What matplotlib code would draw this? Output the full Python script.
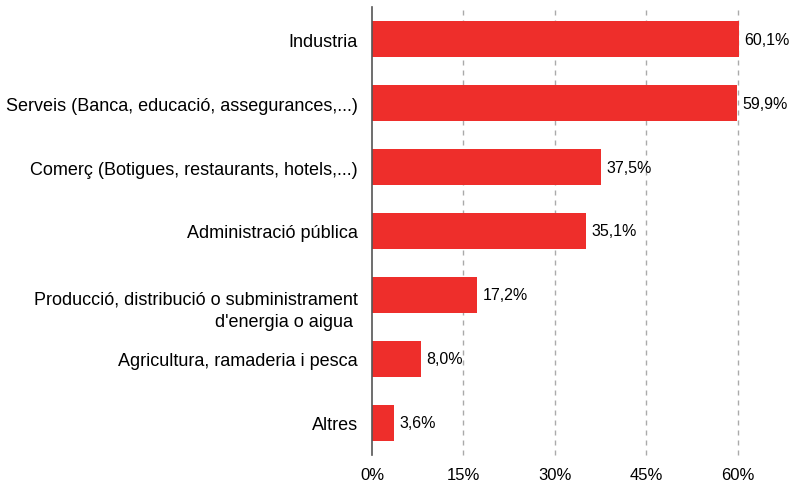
import matplotlib
matplotlib.use("Agg")
import matplotlib.pyplot as plt
from matplotlib import transforms

plt.rcParams['font.family'] = ['Liberation Sans', 'DejaVu Sans']

categories = [
    'Industria',
    'Serveis (Banca, educació, assegurances,...)',
    'Comerç (Botigues, restaurants, hotels,...)',
    'Administració pública',
    "Producció, distribució o subministrament\nd'energia o aigua ",
    'Agricultura, ramaderia i pesca',
    'Altres',
]
values = [60.1, 59.9, 37.5, 35.1, 17.2, 8.0, 3.6]
value_labels = ['60,1%', '59,9%', '37,5%', '35,1%', '17,2%', '8,0%', '3,6%']
xticks = [0, 15, 30, 45, 60]
xtick_labels = ['0%', '15%', '30%', '45%', '60%']

fig = plt.figure(figsize=(8.01, 4.85), dpi=100)
ax = fig.add_axes([0.4644, 0.0598, 0.9213 - 0.4644, 0.9835 - 0.0598])

ypos = list(range(len(categories)))
ax.barh(ypos, values, height=0.57, color='#ee2e2b', zorder=3, clip_on=False)
for y, v, lab in zip(ypos, values, value_labels):
    ax.text(v + 0.9, y, lab, va='center', ha='left', fontsize=11.5, color='black')

ax.set_xlim(0, 60)
ax.set_ylim(len(categories) - 0.5, -0.5)
ax.set_yticks(ypos)
ax.set_yticklabels(categories, fontsize=13, color='black', linespacing=1.4)
ax.set_xticks(xticks)
ax.set_xticklabels(xtick_labels, fontsize=12, color='black')
ax.tick_params(axis='both', length=0)
ax.tick_params(axis='y', pad=10)
ax.tick_params(axis='x', pad=9)

# two-line label: first line sits level with the bar centre
for lbl in ax.get_yticklabels():
    if '\n' in lbl.get_text():
        off = transforms.ScaledTranslation(0, -0.11, fig.dpi_scale_trans)
        lbl.set_transform(lbl.get_transform() + off)

for x in xticks[1:]:
    ax.axvline(x, color='#aaaaaa', linestyle=(0, (3.6, 3.6)), linewidth=1, zorder=1, clip_on=False)

for s in ['top', 'right', 'bottom']:
    ax.spines[s].set_visible(False)
ax.spines['left'].set_color('#555555')
ax.spines['left'].set_linewidth(1.2)
ax.spines['left'].set_zorder(4)

fig.savefig('out.png', dpi=100)
